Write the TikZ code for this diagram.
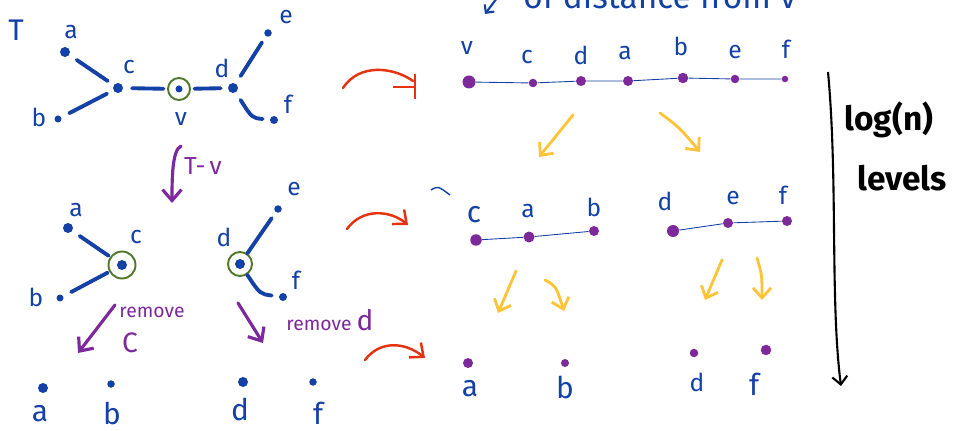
\documentclass[tikz,border=0pt]{standalone}
\usepackage{fontspec}
\setmainfont{Fira Sans}
\usetikzlibrary{arrows.meta}
\definecolor{inkblue}{RGB}{20,65,165}
\definecolor{inkgreen}{RGB}{80,120,40}
\definecolor{inkpurple}{RGB}{125,40,155}
\definecolor{inkred}{RGB}{230,50,15}
\definecolor{inkyellow}{RGB}{255,195,55}

\begin{document}
\begin{tikzpicture}[x=0.2mm, y=-0.2mm,
    vtx/.style={circle, fill=inkblue, inner sep=0pt, minimum size=2mm},
    pvtx/.style={circle, fill=inkpurple, inner sep=0pt, minimum size=1.7mm},
    lbl/.style={text=inkblue, font=\fontsize{14}{16}\selectfont, inner sep=0pt},
    big/.style={text=inkblue, font=\fontsize{17}{19}\selectfont, inner sep=0pt},
    ring/.style={circle, draw=inkgreen, line width=1.1pt, inner sep=0pt, minimum size=4.4mm},
    edge/.style={inkblue, line width=2.2pt, line cap=round, shorten <=5pt, shorten >=4pt},
    chain/.style={inkblue, line width=0.5pt},
    cut/.style={-{Straight Barb[length=2.2mm,width=3.8mm]}, inkpurple, line width=1.8pt, line cap=round},
    split/.style={-{Straight Barb[length=2mm,width=3.6mm]}, inkyellow, line width=1.6pt, line cap=round},
    map/.style={-{Straight Barb[length=2.2mm,width=3.8mm]}, inkred, line width=1.4pt, line cap=round},
    note/.style={text=inkpurple, font=\fontsize{11}{13}\selectfont, inner sep=0pt}
  ]
  \path[use as bounding box, clip] (0,0) rectangle (957,431);

  % tree T
  \node[big] (T) at (16,30) {T};
  \node[vtx] (a1) at (65,52) {};   \node[lbl] (la1) at (71,32) {a};
  \node[vtx] (c1) at (118,88) {};  \node[lbl] (lc1) at (129,67) {c};
  \node[vtx, minimum size=1.4mm] (b1) at (58,119) {}; \node[lbl] (lb1) at (39,117) {b};
  \node[vtx, minimum size=1.4mm] (v1) at (179,89) {}; \node[ring] (r1) at (v1) {};
  \node[lbl] (lv1) at (181,119) {v};
  \node[vtx] (d1) at (233,88) {};  \node[lbl] (ld1) at (222,68) {d};
  \node[vtx, minimum size=1.5mm] (e1) at (268,33) {}; \node[lbl] (le1) at (286,17) {e};
  \node[vtx, minimum size=1.6mm] (f1) at (274,120) {}; \node[lbl] (lf1) at (288,104) {f};
  \draw[edge] (a1) -- (c1);
  \draw[edge] (b1) -- (c1);
  \draw[edge, shorten >=2pt] (c1) -- (r1);
  \draw[edge, shorten <=2pt] (r1) -- (d1);
  \draw[edge] (d1) -- (e1);
  \draw[edge] (d1) .. controls (252,118) .. (f1);

  % T - v
  \coordinate (tv1) at (181,146);
  \coordinate (tv2) at (172,203);
  \draw[cut] (tv1) .. controls (172,150) and (172,180) .. (tv2);
  \node[note, font=\fontsize{14}{16}\selectfont] (ltv) at (203,166) {T-\,v};

  \node[vtx] (a2) at (68,228) {};  \node[lbl] (la2) at (76,210) {a};
  \node[vtx] (c2) at (122,265) {}; \node[ring, minimum size=5.4mm] (r2) at (c2) {};
  \node[lbl] (lc2) at (136,237) {c};
  \node[vtx, minimum size=1.4mm] (b2) at (60,298) {}; \node[lbl] (lb2) at (36,297) {b};
  \draw[edge, shorten >=1pt] (a2) -- (r2);
  \draw[edge, shorten >=1pt] (b2) -- (r2);

  \node[vtx] (d2) at (240,264) {}; \node[ring, minimum size=4.8mm] (r3) at (d2) {};
  \node[lbl] (ld2) at (224,237) {d};
  \node[vtx, minimum size=1.5mm] (e2) at (278,209) {}; \node[lbl] (le2) at (294,189) {e};
  \node[vtx, minimum size=1.6mm] (f2) at (283,297) {}; \node[lbl] (lf2) at (296,280) {f};
  \draw[edge, shorten <=0pt] (r3) -- (e2);
  \draw[edge, shorten <=0pt] (r3) .. controls (260,294) .. (f2);

  % removals
  \coordinate (rc1) at (115,305);
  \coordinate (rc2) at (78,353);
  \draw[cut] (rc1) -- (rc2);
  \node[note] (lrc) at (152,312) {remove};
  \node[note, font=\fontsize{16}{18}\selectfont] (lrc2) at (130,343) {C};
  \coordinate (rd1) at (238,303);
  \coordinate (rd2) at (263,343);
  \draw[cut] (rd1) -- (rd2);
  \node[note] (lrd) at (330,320) {remove {\fontsize{16}{18}\selectfont d}};

  \node[vtx] (a3) at (43,388) {};  \node[big] (la3) at (40,414) {a};
  \node[vtx, minimum size=1.5mm] (b3) at (111,384) {}; \node[big] (lb3) at (112,413) {b};
  \node[vtx] (d3) at (243,382) {}; \node[big] (ld3) at (240,409) {d};
  \node[vtx, minimum size=1.5mm] (f3) at (313,382) {}; \node[big] (lf3) at (318,413) {f};

  % red arrows
  \coordinate (m1a) at (343,88);
  \coordinate (m1b) at (413,81);
  \draw[inkred, line width=1.4pt, line cap=round] (m1a) .. controls (360,62) and (395,68) .. (m1b);
  \coordinate (m1c) at (393,87);
  \coordinate (m1d) at (416,87);
  \draw[inkred, line width=1.4pt, -{Bar[width=5mm]}] (m1c) -- (m1d);
  \coordinate (m2a) at (347,229);
  \coordinate (m2b) at (408,225);
  \draw[map] (m2a) .. controls (362,208) and (390,210) .. (m2b);
  \coordinate (m3a) at (365,360);
  \coordinate (m3b) at (425,358);
  \draw[map] (m3a) .. controls (380,340) and (405,342) .. (m3b);

  % cut-off heading
  \coordinate (h1) at (497,-2);
  \coordinate (h2) at (485,14);
  \draw[inkblue, line width=1.2pt, -{Straight Barb[length=1.2mm,width=2.4mm]}] (h1) -- (h2);
  \node[text=inkblue, font=\fontsize{19}{21}\selectfont, anchor=base west, inner sep=0pt] (head) at (523,9) {of distance from v};

  % array of distances
  \node[pvtx, minimum size=2.6mm] (v4) at (469,82) {}; \node[lbl] (lv4) at (467,48) {v};
  \node[pvtx] (c4) at (533,83) {};  \node[lbl] (lc4) at (527,57) {c};
  \node[pvtx, minimum size=2mm] (d4) at (581,81) {};  \node[lbl] (ld4) at (581,55) {d};
  \node[pvtx, minimum size=2mm] (a4) at (628,81) {};  \node[lbl] (la4) at (625,53) {a};
  \node[pvtx, minimum size=2.1mm] (b4) at (683,78) {};  \node[lbl] (lb4) at (681,46) {b};
  \node[pvtx] (e4) at (735,79) {};  \node[lbl] (le4) at (735,52) {e};
  \node[pvtx, minimum size=1.3mm] (f4) at (785,79) {};  \node[lbl] (lf4) at (786,49) {f};
  \draw[chain] (v4) -- (c4) -- (d4) -- (a4) -- (b4) -- (e4) -- (f4);

  \coordinate (y1a) at (573,115); \coordinate (y1b) at (539,157);
  \coordinate (y2a) at (660,113); \coordinate (y2b) at (700,152);
  \draw[split] (y1a) -- (y1b);
  \draw[split] (y2a) .. controls (680,128) .. (y2b);

  \draw[inkblue, line width=0.8pt] (431,190) .. controls (438,186) .. (450,195);
  \coordinate (tick) at (450,195);

  \node[pvtx, minimum size=2.3mm] (c5) at (476,240) {}; \node[big] (lc5) at (474,215) {c};
  \node[pvtx, minimum size=2.2mm] (a5) at (529,237) {}; \node[lbl] (la5) at (528,211) {a};
  \node[pvtx, minimum size=2mm] (b5) at (594,231) {}; \node[lbl] (lb5) at (594,207) {b};
  \draw[chain] (c5) -- (a5) -- (b5);
  \node[pvtx, minimum size=2.4mm] (d5) at (673,231) {}; \node[lbl] (ld5) at (665,201) {d};
  \node[pvtx, minimum size=2mm] (e5) at (728,223) {}; \node[lbl] (le5) at (733,198) {e};
  \node[pvtx, minimum size=2mm] (f5) at (787,221) {}; \node[lbl] (lf5) at (783,195) {f};
  \draw[chain] (d5) -- (e5) -- (f5);

  \coordinate (y3a) at (516,271); \coordinate (y3b) at (498,313);
  \coordinate (y4a) at (545,280); \coordinate (y4b) at (564,311);
  \coordinate (y5a) at (722,260); \coordinate (y5b) at (705,300);
  \coordinate (y6a) at (757,258); \coordinate (y6b) at (762,300);
  \draw[split] (y3a) -- (y3b);
  \draw[split] (y4a) .. controls (556,286) .. (y4b);
  \draw[split] (y5a) -- (y5b);
  \draw[split] (y6a) .. controls (762,275) .. (y6b);

  \node[pvtx, minimum size=2mm] (a6) at (468,363) {}; \node[big] (la6) at (470,389) {a};
  \node[pvtx, minimum size=1.6mm] (b6) at (565,363) {}; \node[big] (lb6) at (565,387) {b};
  \node[pvtx, minimum size=1.7mm] (d6) at (694,353) {}; \node[lbl] (ld6) at (697,382) {d};
  \node[pvtx, minimum size=2.1mm] (f6) at (766,350) {}; \node[big] (lf6) at (754,384) {f};

  % levels
  \coordinate (lv1) at (828,72);
  \coordinate (lv2) at (841,386);
  \draw[black, line width=1.2pt, -{Straight Barb[length=1.6mm,width=3mm]}] (lv1) .. controls (838,180) and (830,300) .. (lv2);
  \node[font=\bfseries\fontsize{19}{21}\selectfont, inner sep=0pt] (lg) at (889,120) {log(n)};
  \node[font=\bfseries\fontsize{19}{21}\selectfont, inner sep=0pt] (lvl) at (902,178) {levels};
\end{tikzpicture}
\end{document}
